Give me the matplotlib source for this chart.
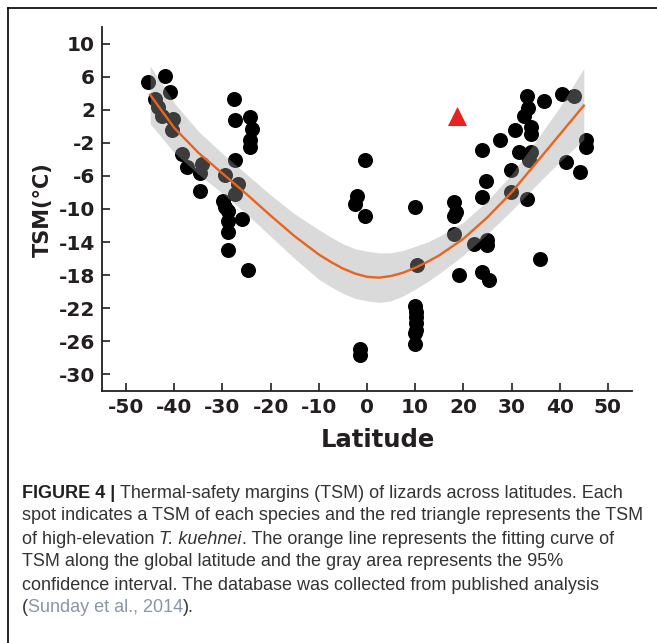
import matplotlib
matplotlib.use('Agg')
import matplotlib.pyplot as plt
from matplotlib.lines import Line2D

# species TSM points (latitude, TSM)
lat_pts = [-45.4, -41.9, -40.9, -44.0, -43.3, -42.6, -40.2, -40.5,
           -27.7, -27.4, -24.3, -23.9, -24.3, -24.3,
           -38.5, -37.4, -34.3, -34.7, -34.7, -27.4, -29.5, -26.7, -27.4,
           -29.8, -29.5, -28.8, -26.0, -28.8, -28.8, -28.8, -24.6,
           -0.4, -2.1, -2.4, -0.4, 10.0, 10.4,
           10.0, 10.2, 10.2, 10.2, 10.2, 10.0, 10.0, -1.4, -1.4,
           33.3, 36.7, 40.5, 43.0, 32.6, 33.4, 30.8, 34.0, 34.0,
           27.7, 23.9, 31.5, 34.0, 33.6, 45.4, 45.4, 41.2, 44.3,
           29.8, 24.6, 29.8, 33.3, 18.0, 18.4, 18.0, 23.9,
           18.0, 22.2, 24.9, 24.9, 36.0, 19.0, 23.9, 25.3]
tsm_pts = [5.3, 6.1, 4.1, 3.3, 2.3, 1.2, 0.9, -0.4,
           3.3, 0.7, 1.1, -0.3, -1.7, -2.5,
           -3.3, -4.9, -4.5, -5.7, -7.8, -4.1, -5.9, -7.0, -8.2,
           -9.0, -9.8, -10.3, -11.2, -11.4, -12.8, -15.0, -17.4,
           -4.1, -8.4, -9.4, -10.8, -9.8, -16.8,
           -21.7, -22.4, -23.1, -23.8, -24.6, -25.0, -26.3, -26.9, -27.7,
           3.7, 3.1, 3.9, 3.7, 1.3, 2.2, -0.5, -0.1, -0.9,
           -1.7, -2.9, -3.1, -3.1, -4.1, -1.7, -2.5, -4.3, -5.5,
           -5.3, -6.6, -8.0, -8.8, -9.2, -10.4, -10.8, -8.6,
           -13.0, -14.2, -13.8, -14.4, -16.0, -18.0, -17.6, -18.6]

# T. kuehnei (high elevation)
kuehnei_lat = [18.7]
kuehnei_tsm = [1.3]

# fitted curve and 95% CI
fit_lat = [-45, -40, -35, -30, -25, -20, -15, -10, -7.5, -5, -2.5, 0, 2.5, 5, 7.5,
           10, 12.5, 15, 20, 25, 30, 35, 40, 45]
fit_tsm = [3.8, -0.2, -3.2, -5.7, -8.2, -10.8, -13.3, -15.5, -16.4, -17.2, -17.8,
           -18.2, -18.3, -18.1, -17.7, -17.1, -16.4, -15.6, -13.6, -11.0, -8.0,
           -4.5, -1.0, 2.5]
ci_upper = [7.3, 2.8, -0.6, -3.3, -5.8, -8.3, -10.6, -12.5, -13.4, -14.2, -14.8,
            -15.1, -15.3, -15.3, -15.0, -14.5, -14.0, -13.3, -11.6, -9.0, -5.8,
            -1.8, 2.3, 7.0]
ci_lower = [0.3, -3.2, -5.8, -8.1, -10.6, -13.3, -16.0, -18.5, -19.4, -20.2, -20.8,
            -21.1, -21.3, -21.1, -20.5, -19.7, -18.8, -17.8, -15.6, -13.0, -10.2,
            -7.2, -4.3, -1.6]

xticks = [-50, -40, -30, -20, -10, 0, 10, 20, 30, 40, 50]
yticks = [10, 6, 2, -2, -6, -10, -14, -18, -22, -26, -30]

W, H = 657, 643
ink = '#231f20'

fig = plt.figure(figsize=(W / 100, H / 100), dpi=100)
ax = fig.add_axes([102 / W, 1 - 391 / H, 530 / W, 364 / H])

ax.scatter(lat_pts, tsm_pts, s=117, color='black', linewidths=0, zorder=2)
ax.fill_between(fit_lat, ci_lower, ci_upper, color='#a0a0a0', alpha=0.38,
                linewidth=0, zorder=3)
ax.plot(fit_lat, fit_tsm, color='#e8641e', lw=1.7, zorder=4)
ax.scatter(kuehnei_lat, kuehnei_tsm, marker='^', s=190, color='#e52421',
           linewidths=0, zorder=5)

ax.set_xlim(-55, 55)
ax.set_ylim(-32, 12)
ax.set_xticks(xticks)
ax.set_yticks(yticks)
ax.set_xticklabels([str(v) for v in xticks])
ax.set_yticklabels([str(v) for v in yticks])
for s in ['top', 'right']:
    ax.spines[s].set_visible(False)
for s in ['left', 'bottom']:
    ax.spines[s].set_color(ink)
    ax.spines[s].set_linewidth(1.3)
ax.tick_params(direction='in', length=6, width=1.2, color=ink, labelcolor=ink,
               labelsize=14.5, pad=5)
for lab in ax.get_xticklabels() + ax.get_yticklabels():
    lab.set_fontweight('bold')
    lab.set_family('DejaVu Sans')

ax.set_xlabel('Latitude', fontsize=17.5, fontweight='bold', color=ink)
ax.set_ylabel('TSM(°C)', fontsize=15, fontweight='bold', color=ink)
ax.xaxis.set_label_coords((378 - 102) / 530, -(428 - 391) / 364)
ax.yaxis.set_label_coords(-(102 - 53) / 530, (391 - 210) / 364)

# frame lines of the figure panel
fig.add_artist(Line2D([8 / W, 1], [1 - 8 / H, 1 - 8 / H], color='black', lw=1.2))
fig.add_artist(Line2D([8 / W, 8 / W], [0, 1 - 8 / H], color='black', lw=1.2))

# caption, assembled piece by piece
renderer = fig.canvas.get_renderer()
cap_size = 13
cap_font = 'Liberation Sans'
cap_color = '#333333'


def space_width(**kw):
    a = fig.text(0, 0, 'n n', fontsize=cap_size, family=cap_font, **kw)
    b = fig.text(0, 0, 'nn', fontsize=cap_size, family=cap_font, **kw)
    w = a.get_window_extent(renderer).width - b.get_window_extent(renderer).width
    a.remove()
    b.remove()
    return w


sp = space_width()


def caption_line(y_px, pieces):
    x = 22
    for text, kw, gap in pieces:
        t = fig.text(x / W, 1 - y_px / H, text, fontsize=cap_size, family=cap_font,
                     va='center', ha='left', **kw)
        bb = t.get_window_extent(renderer)
        x = bb.x1 + (sp if gap else 0)


reg = dict(color=cap_color)
caption_line(493, [('FIGURE 4 |', dict(color=ink, fontweight='bold'), True),
                   ('Thermal-safety margins (TSM) of lizards across latitudes. Each', reg, False)])
caption_line(516, [('spot indicates a TSM of each species and the red triangle represents the TSM', reg, False)])
caption_line(539, [('of high-elevation', reg, True),
                   ('T. kuehnei', dict(color=cap_color, style='italic'), False),
                   ('. The orange line represents the fitting curve of', reg, False)])
caption_line(562, [('TSM along the global latitude and the gray area represents the 95%', reg, False)])
caption_line(585, [('confidence interval. The database was collected from published analysis', reg, False)])
caption_line(608, [('(', reg, False),
                   ('Sunday et al., 2014', dict(color='#8a96a3'), False),
                   (').', reg, False)])

fig.savefig('out.png', dpi=100)
